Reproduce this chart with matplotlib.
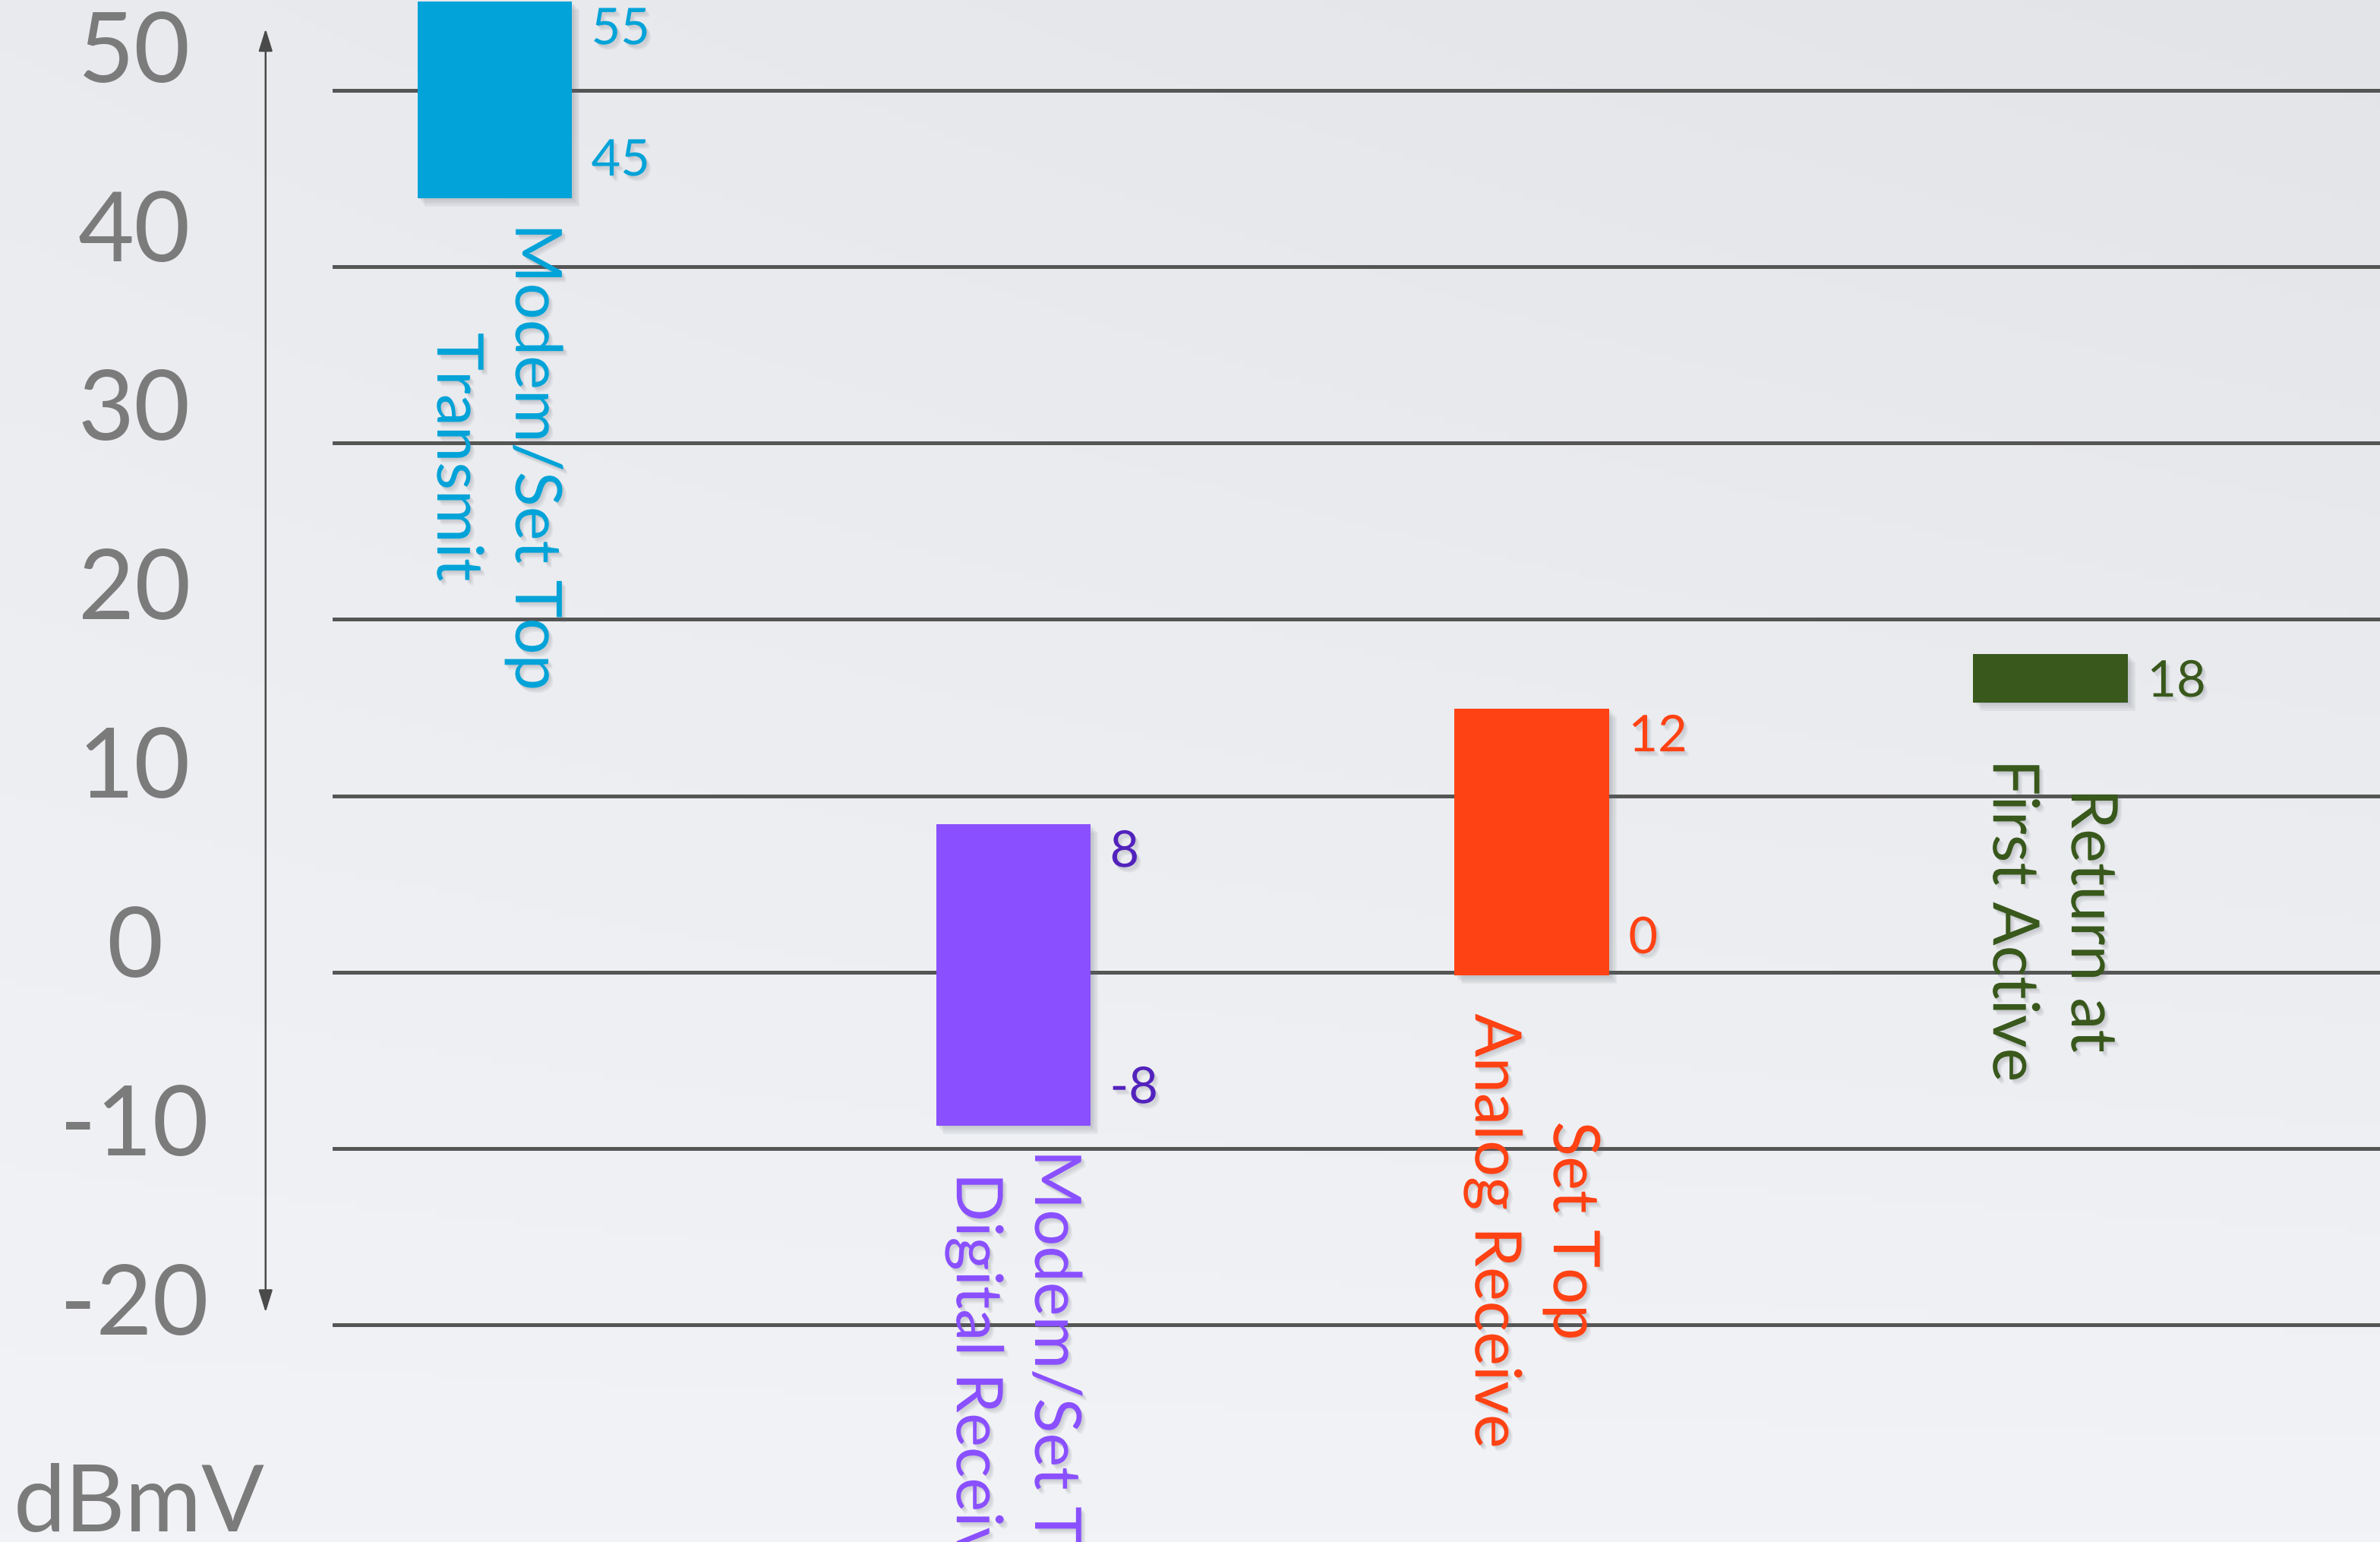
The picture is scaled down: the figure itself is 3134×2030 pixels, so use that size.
import numpy as np
import matplotlib.pyplot as plt
from matplotlib import patheffects as pe

plt.rcParams['font.family'] = ['Lato', 'DejaVu Sans']

# levels in dBmV
names = ["Modem/Set Top\nTransmit", "Modem/Set Top\nDigital Receive",
         "Set Top\nAnalog Receive", "Return at\nFirst Active"]
low = [43.9, -8.7, -0.2, 15.3]
high = [55.05, 8.4, 14.95, 18.05]
top_text = ["55", "8", "12", "18"]
bottom_text = ["45", "-8", "0", ""]
grid_vals = [50, 40, 30, 20, 10, 0, -10, -20]

bar_colors = ["#02a3d8", "#8a50ff", "#ff4214", "#39581c"]
text_colors = ["#02a3d8", "#5222bd", "#ff4214", "#39581c"]
name_gap = [12, 11.5, 18, 27]  # points below bar bottom


def soft_shadow(dx, dy, alpha, n=4, face='#5f6470'):
    fx = []
    for k in range(1, n + 1):
        fx.append(pe.SimplePatchShadow(offset=(dx * k / n, -dy * k / n),
                                       shadow_rgbFace=face, alpha=alpha))
    fx.append(pe.Normal())
    return fx


fig = plt.figure(figsize=(15.67, 10.155), dpi=200)

# background wash
bg = fig.add_axes([0, 0, 1, 1], zorder=-1)
gx, gy = np.meshgrid(np.linspace(0, 1, 300), np.linspace(0, 1, 200))
t = 0.55 * gy + 0.45 * gx * gy
light = np.array([0xf2, 0xf3, 0xf6]) / 255
dark = np.array([0xe2, 0xe4, 0xe8]) / 255
img = light[None, None, :] * (1 - t[..., None]) + dark[None, None, :] * t[..., None]
bg.imshow(img, extent=[0, 1, 0, 1], origin='lower', aspect='auto')
bg.axis('off')

ax = fig.add_axes([0, 0, 1, 1])
ax.set_facecolor('none')
ax.set_xlim(-0.954, 3.635)
ax.set_ylim(-32.32, 55.17)
ax.axis('off')

for v in grid_vals:
    ax.axhline(v, xmin=0.1403, xmax=1, color='#555555', lw=1.8, zorder=1)
    ax.text(0.0565, -0.224 + 1.0148 * v, str(v), transform=ax.get_yaxis_transform(),
            ha='center', va='baseline', fontsize=46, color='#7b7b7b')

# double headed axis arrow
ax.annotate("", xy=(0.1116, 53.5), xytext=(0.1116, -19.3),
            xycoords=('axes fraction', 'data'), textcoords=('axes fraction', 'data'),
            arrowprops=dict(arrowstyle='<|-|>,head_length=0.45,head_width=0.14',
                            color='#4a4a4a', lw=0.9, shrinkA=0, shrinkB=0,
                            mutation_scale=20))

fig.text(0.0057, 0.0075, "dBmV", ha='left', va='baseline', fontsize=44, color='#7b7b7b')

x = np.arange(len(names))
bars = ax.bar(x, np.array(high) - np.array(low), bottom=low, width=0.2985,
              color=bar_colors, zorder=3)
for b in bars:
    b.set_path_effects(soft_shadow(3.5, 4, 0.08))

for i in range(len(names)):
    tx = x[i] + 0.149 + 0.037
    ax.text(tx, high[i] - 2.43, top_text[i], ha='left', va='baseline', fontsize=24,
            color=text_colors[i], zorder=4, path_effects=soft_shadow(2, 2.5, 0.07))
    if bottom_text[i]:
        ax.text(tx, low[i] + 1.27, bottom_text[i], ha='left', va='baseline', fontsize=24,
                color=text_colors[i], zorder=4, path_effects=soft_shadow(2, 2.5, 0.07))
    ax.annotate(names[i], xy=(x[i], low[i]), xytext=(0, -name_gap[i]),
                textcoords='offset points', rotation=-90, ha='center', va='top',
                fontsize=30.5, linespacing=1.4, color=bar_colors[i], zorder=4,
                annotation_clip=False, path_effects=soft_shadow(2, 2.5, 0.07))

fig.savefig("out.png", dpi=200)
